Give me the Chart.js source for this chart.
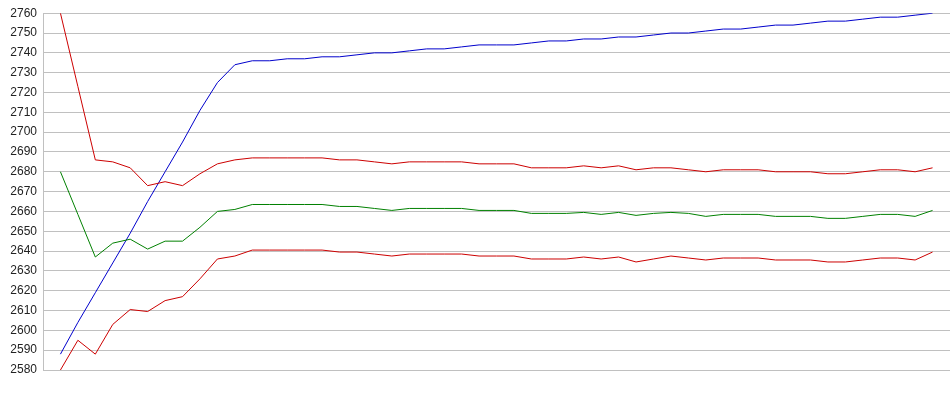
<!DOCTYPE html>
<html>
<head>
<meta charset="utf-8">
<script src="https://cdn.jsdelivr.net/npm/chart.js@4/dist/chart.umd.min.js"></script>
<style>
	html, body { margin: 0; padding: 0; background: #fff; }
	#chart { display: block; }
</style>
</head>
<body>
<canvas id="chart" width="950" height="395"></canvas>
<script>
	'use strict';

	// y axis range
	var yMin = 2580,
		yMax = 2760,
		yStep = 10;

	// one value per step, 51 steps
	var blueLine = [
		2588, 2604, 2619, 2634, 2649, 2665, 2680, 2695, 2711, 2725,
		2734, 2736, 2736, 2737, 2737, 2738, 2738, 2739, 2740, 2740,
		2741, 2742, 2742, 2743, 2744, 2744, 2744, 2745, 2746, 2746,
		2747, 2747, 2748, 2748, 2749, 2750, 2750, 2751, 2752, 2752,
		2753, 2754, 2754, 2755, 2756, 2756, 2757, 2758, 2758, 2759,
		2760
	];

	var upperRed = [
		2760, 2723, 2686, 2685, 2682, 2673, 2675, 2673, 2679, 2684,
		2686, 2687, 2687, 2687, 2687, 2687, 2686, 2686, 2685, 2684,
		2685, 2685, 2685, 2685, 2684, 2684, 2684, 2682, 2682, 2682,
		2683, 2682, 2683, 2681, 2682, 2682, 2681, 2680, 2681, 2681,
		2681, 2680, 2680, 2680, 2679, 2679, 2680, 2681, 2681, 2680,
		2682
	];

	var greenLine = [
		2680, 2658.5, 2637, 2644, 2646, 2641, 2645, 2645, 2652, 2660,
		2661, 2663.5, 2663.5, 2663.5, 2663.5, 2663.5, 2662.5, 2662.5, 2661.5, 2660.5,
		2661.5, 2661.5, 2661.5, 2661.5, 2660.5, 2660.5, 2660.5, 2659, 2659, 2659,
		2659.5, 2658.5, 2659.5, 2658, 2659, 2659.5, 2659, 2657.5, 2658.5, 2658.5,
		2658.5, 2657.5, 2657.5, 2657.5, 2656.5, 2656.5, 2657.5, 2658.5, 2658.5, 2657.5,
		2660.5
	];

	var lowerRed = [
		2580, 2595, 2588, 2603, 2610.5, 2609.5, 2615, 2617, 2626, 2636,
		2637.5, 2640.5, 2640.5, 2640.5, 2640.5, 2640.5, 2639.5, 2639.5, 2638.5, 2637.5,
		2638.5, 2638.5, 2638.5, 2638.5, 2637.5, 2637.5, 2637.5, 2636, 2636, 2636,
		2637, 2636, 2637, 2634.5, 2636, 2637.5, 2636.5, 2635.5, 2636.5, 2636.5,
		2636.5, 2635.5, 2635.5, 2635.5, 2634.5, 2634.5, 2635.5, 2636.5, 2636.5, 2635.5,
		2639.5
	];

	// steps start at 1, the axis runs 0..52 so there is a gap on both sides
	function toPoints(values) {
		return values.map(function (v, i) {
			return {x: i + 1, y: v};
		});
	}

	function makeSet(values, color) {
		return {
			data: toPoints(values),
			borderColor: color,
			borderWidth: 1,
			pointRadius: 0,
			tension: 0,
			fill: false
		};
	}

	var chart = new Chart(document.getElementById('chart'), {
		type: 'line',
		data: {
			datasets: [
				makeSet(lowerRed, '#cc0000'),
				makeSet(greenLine, '#008000'),
				makeSet(upperRed, '#cc0000'),
				makeSet(blueLine, '#0000cc')
			]
		},
		options: {
			responsive: false,
			animation: false,
			devicePixelRatio: 1,
			layout: {
				padding: {top: 10, right: 0, bottom: 25, left: 0}
			},
			plugins: {
				legend: {display: false},
				tooltip: {enabled: false}
			},
			scales: {
				x: {
					type: 'linear',
					min: 0,
					max: blueLine.length + 1,
					display: false
				},
				y: {
					min: yMin,
					max: yMax,
					afterFit: function (scale) {
						scale.width = 43;
					},
					grid: {
						color: '#c0c0c0',
						lineWidth: 1,
						drawTicks: false
					},
					border: {
						display: true,
						color: '#c0c0c0',
						width: 1
					},
					ticks: {
						stepSize: yStep,
						padding: 6,
						color: '#222',
						font: {family: '"Liberation Sans", Arial, sans-serif', size: 12},
						// plain numbers, no thousands separator
						callback: function (value) {
							return String(value);
						}
					}
				}
			}
		}
	});
</script>
</body>
</html>
